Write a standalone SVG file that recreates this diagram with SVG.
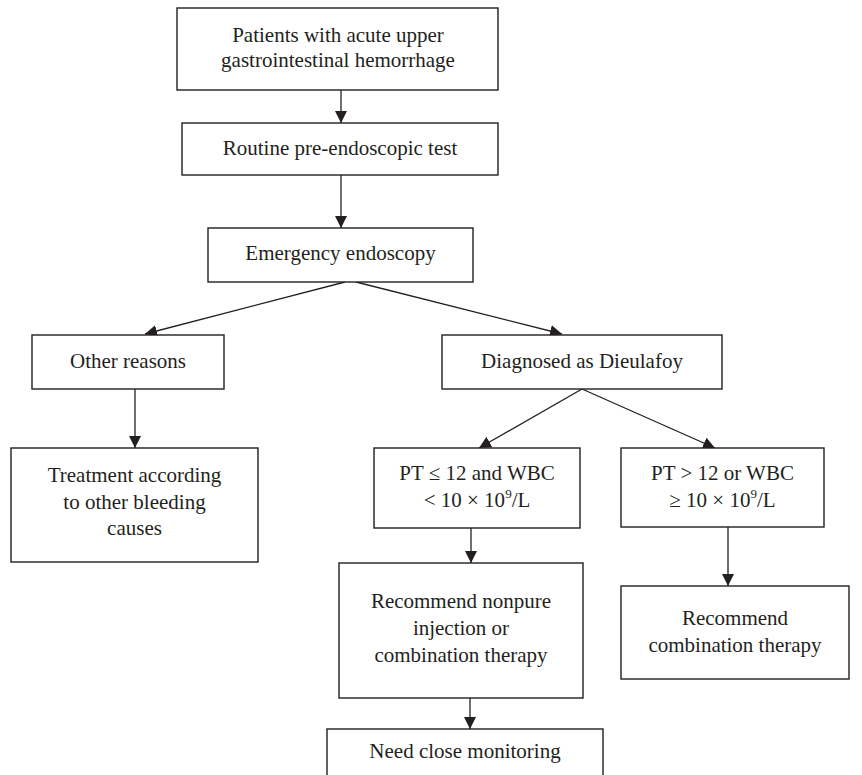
<svg xmlns="http://www.w3.org/2000/svg" width="862" height="775" viewBox="0 0 862 775">
<style>
.box{fill:#fff;stroke:#231f20;stroke-width:1.4}
.t{font-family:"Liberation Serif","Times New Roman",serif;font-size:21px;fill:#231f20;text-anchor:middle}
.c{stroke:#231f20;stroke-width:1.3;fill:none;marker-end:url(#ah)}
</style>
<defs>
<marker id="ah" markerUnits="userSpaceOnUse" viewBox="0 0 12 12" refX="12" refY="6" markerWidth="12" markerHeight="12" orient="auto">
<path d="M0,0 L12,6 L0,12 Z" fill="#231f20"/>
</marker>
</defs>
<rect width="862" height="775" fill="#fff"/>
<g id="connectors">
<line class="c" x1="341" y1="90" x2="341" y2="123"/>
<line class="c" x1="341" y1="175" x2="341" y2="228"/>
<line class="c" x1="345" y1="282" x2="145" y2="334"/>
<line class="c" x1="356" y1="282" x2="562" y2="334"/>
<line class="c" x1="135" y1="389" x2="135" y2="448"/>
<line class="c" x1="582" y1="389" x2="479" y2="448"/>
<line class="c" x1="582" y1="389" x2="715" y2="448"/>
<line class="c" x1="471" y1="528" x2="471" y2="563"/>
<line class="c" x1="728" y1="527" x2="728" y2="586"/>
<line class="c" x1="470" y1="698" x2="470" y2="729"/>
</g>
<g id="n1">
<rect class="box" x="177" y="8" width="321" height="82"/>
<text class="t" x="338" y="42">Patients with acute upper</text>
<text class="t" x="338" y="67">gastrointestinal hemorrhage</text>
</g>
<g id="n2">
<rect class="box" x="182" y="123" width="316" height="52"/>
<text class="t" x="340" y="155">Routine pre-endoscopic test</text>
</g>
<g id="n3">
<rect class="box" x="208" y="228" width="265" height="54"/>
<text class="t" x="340.5" y="260">Emergency endoscopy</text>
</g>
<g id="n4">
<rect class="box" x="32" y="335" width="192" height="54"/>
<text class="t" x="128" y="368">Other reasons</text>
</g>
<g id="n5">
<rect class="box" x="442" y="335" width="280" height="54"/>
<text class="t" x="582" y="368">Diagnosed as Dieulafoy</text>
</g>
<g id="n6">
<rect class="box" x="11" y="448" width="247" height="114"/>
<text class="t" x="134.5" y="482">Treatment according</text>
<text class="t" x="134.5" y="509">to other bleeding</text>
<text class="t" x="134.5" y="535">causes</text>
</g>
<g id="n7">
<rect class="box" x="374" y="448" width="206" height="80"/>
<text class="t" x="477" y="480">PT ≤ 12 and WBC</text>
<text class="t" x="477" y="507">&lt; 10 × 10<tspan font-size="13" dy="-9">9</tspan><tspan dy="9">/L</tspan></text>
</g>
<g id="n8">
<rect class="box" x="621" y="448" width="203" height="79"/>
<text class="t" x="722.5" y="480">PT &gt; 12 or WBC</text>
<text class="t" x="722.5" y="507">≥ 10 × 10<tspan font-size="13" dy="-9">9</tspan><tspan dy="9">/L</tspan></text>
</g>
<g id="n9">
<rect class="box" x="339" y="563" width="244" height="135"/>
<text class="t" x="461" y="608">Recommend nonpure</text>
<text class="t" x="461" y="635">injection or</text>
<text class="t" x="461" y="662">combination therapy</text>
</g>
<g id="n10">
<rect class="box" x="621" y="586" width="228" height="93"/>
<text class="t" x="735" y="625">Recommend</text>
<text class="t" x="735" y="652">combination therapy</text>
</g>
<g id="n11">
<rect class="box" x="327" y="729" width="276" height="60"/>
<text class="t" x="465" y="758">Need close monitoring</text>
</g>
</svg>
